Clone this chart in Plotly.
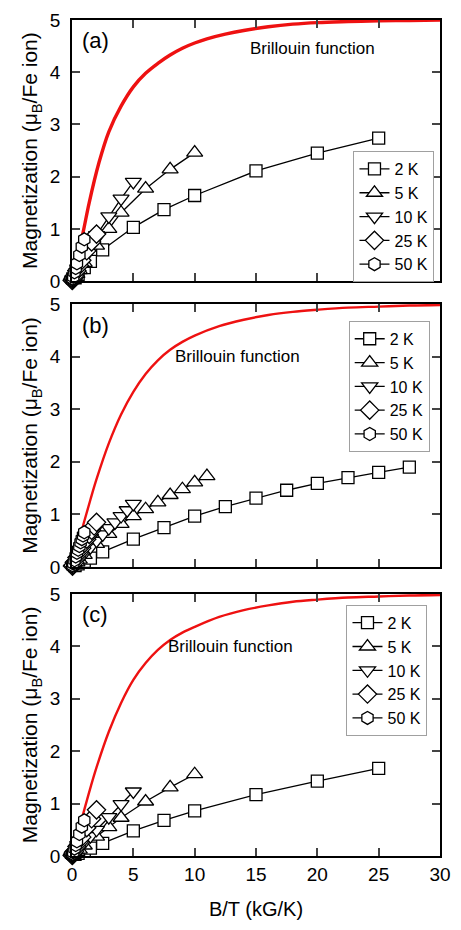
import plotly.graph_objects as go

# ---------------- data ----------------
temps = ["2 K", "5 K", "10 K", "25 K", "50 K"]
symbols = ["square", "triangle-up", "triangle-down", "diamond", "hexagon"]
msizes = [12, 14, 14, 14, 13]

# Panel (a)
a_x2 = [0.25, 0.5, 1, 1.5, 2.5, 5, 7.5, 10, 15, 20, 25]
a_y2 = [0.065, 0.13, 0.26, 0.38, 0.6, 1.03, 1.37, 1.64, 2.11, 2.45, 2.74]
a_x5 = [0.1, 0.2, 0.4, 0.6, 1, 2, 3, 4, 6, 8, 10]
a_y5 = [0.035, 0.07, 0.14, 0.21, 0.35, 0.68, 1.0, 1.31, 1.77, 2.14, 2.46]
a_x10 = [0.05, 0.1, 0.2, 0.3, 0.5, 1, 1.5, 2, 3, 4, 5]
a_y10 = [0.022, 0.045, 0.09, 0.14, 0.23, 0.45, 0.67, 0.88, 1.24, 1.58, 1.9]
a_x25 = [0.02, 0.04, 0.08, 0.12, 0.2, 0.4, 0.6, 0.8, 1.2, 1.6, 2.0]
a_y25 = [0.01, 0.02, 0.04, 0.06, 0.1, 0.2, 0.3, 0.4, 0.58, 0.75, 0.9]
a_x50 = [0.01, 0.02, 0.04, 0.06, 0.1, 0.2, 0.3, 0.4, 0.6, 0.8, 1.0]
a_y50 = [0.008, 0.017, 0.034, 0.05, 0.085, 0.17, 0.25, 0.34, 0.5, 0.66, 0.8]

# Panel (b)
b_x2 = [0.25, 0.5, 1, 1.5, 2.5, 5, 7.5, 10, 12.5, 15, 17.5, 20, 22.5, 25, 27.5]
b_y2 = [0.03, 0.06, 0.11, 0.17, 0.29, 0.53, 0.75, 0.97, 1.15, 1.31, 1.46, 1.59, 1.70, 1.80, 1.90]
b_x5 = [0.2, 0.4, 0.6, 1, 2, 3, 4, 5, 6, 7, 8, 9, 10, 11]
b_y5 = [0.045, 0.09, 0.14, 0.23, 0.44, 0.63, 0.82, 0.97, 1.1, 1.23, 1.37, 1.48, 1.61, 1.73]
b_x10 = [0.1, 0.2, 0.5, 1, 1.5, 2, 2.5, 3, 3.5, 4, 4.5, 5]
b_y10 = [0.026, 0.052, 0.13, 0.26, 0.38, 0.5, 0.62, 0.74, 0.85, 0.97, 1.08, 1.2]
b_x25 = [0.04, 0.08, 0.2, 0.4, 0.6, 0.8, 1.0, 1.2, 1.4, 1.6, 1.8, 2.0]
b_y25 = [0.018, 0.036, 0.09, 0.18, 0.27, 0.36, 0.45, 0.53, 0.62, 0.7, 0.78, 0.85]
b_x50 = [0.02, 0.05, 0.1, 0.2, 0.3, 0.4, 0.5, 0.6, 0.7, 0.8, 0.9, 1.0]
b_y50 = [0.014, 0.034, 0.07, 0.13, 0.2, 0.27, 0.33, 0.4, 0.47, 0.53, 0.6, 0.66]

# Panel (c)
c_x2 = [0.25, 0.5, 1, 1.5, 2.5, 5, 7.5, 10, 15, 20, 25]
c_y2 = [0.03, 0.05, 0.1, 0.15, 0.24, 0.48, 0.68, 0.86, 1.17, 1.43, 1.67]
c_x5 = [0.1, 0.2, 0.4, 0.6, 1, 2, 3, 4, 6, 8, 10]
c_y5 = [0.02, 0.04, 0.08, 0.12, 0.2, 0.37, 0.55, 0.73, 1.04, 1.31, 1.56]
c_x10 = [0.05, 0.1, 0.2, 0.3, 0.5, 1, 1.5, 2, 3, 4, 5]
c_y10 = [0.012, 0.025, 0.05, 0.075, 0.13, 0.26, 0.38, 0.5, 0.74, 0.99, 1.23]
c_x25 = [0.02, 0.04, 0.08, 0.12, 0.2, 0.4, 0.6, 0.8, 1.2, 1.6, 2.0]
c_y25 = [0.01, 0.02, 0.04, 0.06, 0.09, 0.18, 0.27, 0.36, 0.54, 0.71, 0.88]
c_x50 = [0.01, 0.02, 0.04, 0.06, 0.1, 0.2, 0.3, 0.4, 0.6, 0.8, 1.0]
c_y50 = [0.007, 0.014, 0.028, 0.042, 0.07, 0.14, 0.21, 0.28, 0.42, 0.56, 0.68]

# Brillouin function curves
bri_a_x = [0, 0.5, 0.9, 1.4, 2.2, 3, 4, 5, 6, 7, 8, 9, 10, 11, 12.5, 14, 16, 18, 20, 22.5, 25, 27.5, 30]
bri_a_y = [0, 0.52, 0.93, 1.5, 2.27, 2.86, 3.35, 3.72, 3.98, 4.17, 4.33, 4.46, 4.56, 4.64, 4.73,
           4.80, 4.87, 4.92, 4.95, 4.97, 4.985, 4.99, 5.0]
bri_b_x = [0, 0.5, 1, 1.5, 2, 3, 4, 5, 6, 7, 8, 9, 10, 12, 14, 16, 18, 20, 22.5, 25, 27.5, 30]
bri_b_y = [0, 0.44, 0.87, 1.28, 1.67, 2.35, 2.9, 3.33, 3.67, 3.93, 4.13, 4.28, 4.4, 4.58, 4.7,
           4.79, 4.85, 4.89, 4.93, 4.95, 4.97, 4.98]
bri_c_x = [0, 0.5, 1, 1.5, 2, 3, 4, 5, 6, 7, 8, 9, 10, 12, 14, 16, 18, 20, 22.5, 25, 27.5, 30]
bri_c_y = [0, 0.45, 0.88, 1.3, 1.69, 2.37, 2.92, 3.36, 3.68, 3.93, 4.12, 4.26, 4.37, 4.56, 4.69,
           4.78, 4.85, 4.89, 4.93, 4.95, 4.97, 4.98]

panels = [
    dict(label="(a)", xs=[a_x2, a_x5, a_x10, a_x25, a_x50], ys=[a_y2, a_y5, a_y10, a_y25, a_y50],
         bx=bri_a_x, by=bri_a_y, bw=3.4, text_xy=(19.6, 4.45)),
    dict(label="(b)", xs=[b_x2, b_x5, b_x10, b_x25, b_x50], ys=[b_y2, b_y5, b_y10, b_y25, b_y50],
         bx=bri_b_x, by=bri_b_y, bw=2.4, text_xy=(13.5, 4.0)),
    dict(label="(c)", xs=[c_x2, c_x5, c_x10, c_x25, c_x50], ys=[c_y2, c_y5, c_y10, c_y25, c_y50],
         bx=bri_c_x, by=bri_c_y, bw=2.4, text_xy=(12.9, 4.0)),
]

# ---------------- layout geometry ----------------
W, H = 461, 930
ML, MR, MT, MB = 72, 10, 14, 74
ph = H - MT - MB
def ydom(top_px, bot_px):
    return [(H - MB - bot_px) / ph, (H - MB - top_px) / ph]
domains = [ydom(14, 277), ydom(300, 565), ydom(592, 856)]
legend_pos = [(0.985, ydom(146, 146)[0]), (0.972, ydom(317, 317)[0]), (0.966, ydom(603, 603)[0])]

FONT = "Arial, 'Liberation Sans', sans-serif"
fig = go.Figure()
legend_names = ["legend", "legend2", "legend3"]
yaxis_names = ["y", "y2", "y3"]
xaxis_names = ["x2", "x3", "x"]

for i, p in enumerate(panels):
    ya = yaxis_names[i]
    xa = xaxis_names[i]
    fig.add_trace(go.Scatter(x=p["bx"], y=p["by"], mode="lines", line=dict(color="#ee1111", width=p["bw"], shape="spline"),
                             showlegend=False, xaxis=xa, yaxis=ya, hoverinfo="skip"))
    for k in range(5):
        fig.add_trace(go.Scatter(
            x=p["xs"][k], y=p["ys"][k], mode="lines+markers", name=temps[k],
            line=dict(color="black", width=1.3),
            marker=dict(symbol=symbols[k], size=msizes[k], color="white", line=dict(color="black", width=1.3)),
            cliponaxis=False, xaxis=xa, yaxis=ya, legend=legend_names[i]))

axis_common = dict(ticks="inside", ticklen=8, tickwidth=1.5, showline=True, linewidth=1.8, linecolor="black",
                   mirror="ticks", showgrid=False, zeroline=False)
layout = dict(
    width=W, height=H, margin=dict(l=ML, r=MR, t=MT, b=MB),
    paper_bgcolor="white", plot_bgcolor="white",
    font=dict(family=FONT, color="black", size=19),
    xaxis=dict(range=[0, 30], domain=[0, 1], anchor="y3", tickvals=[0, 5, 10, 15, 20, 25, 30],
               title=dict(text="B/T (kG/K)", font=dict(size=20), standoff=18),
               tickfont=dict(size=19), **axis_common),
)
for i in range(3):
    key = "yaxis" if i == 0 else f"yaxis{i+1}"
    layout[key] = dict(range=[0, 5], domain=domains[i], anchor=xaxis_names[i], tickvals=[0, 1, 2, 3, 4, 5],
                       tickfont=dict(size=19), ticklabelstandoff=6,
                       title=dict(text="Magnetization (μ<sub>B</sub>/Fe ion)", font=dict(size=21), standoff=6),
                       **axis_common)
for i in range(2):
    xk = f"xaxis{i+2}"
    layout[xk] = dict(range=[0, 30], domain=[0, 1], anchor=yaxis_names[i], matches="x",
                      tickvals=[0, 5, 10, 15, 20, 25, 30], showticklabels=False, **axis_common)
for i, ln in enumerate(legend_names):
    layout[ln] = dict(x=legend_pos[i][0], y=legend_pos[i][1], xanchor="right", yanchor="top",
                      bgcolor="white", bordercolor="#a0a0a0", borderwidth=1,
                      font=dict(size=16, family=FONT), tracegroupgap=0, itemwidth=30)
fig.update_layout(**layout)

for i, p in enumerate(panels):
    xr = xaxis_names[i]
    fig.add_annotation(x=1.9, y=4.6, xref=xr, yref=yaxis_names[i], text=p["label"], showarrow=False,
                       font=dict(size=22, family=FONT))
    fig.add_annotation(x=p["text_xy"][0], y=p["text_xy"][1], xref=xr, yref=yaxis_names[i],
                       text="Brillouin function", showarrow=False, font=dict(size=17, family=FONT))

fig.write_html("out.html")
